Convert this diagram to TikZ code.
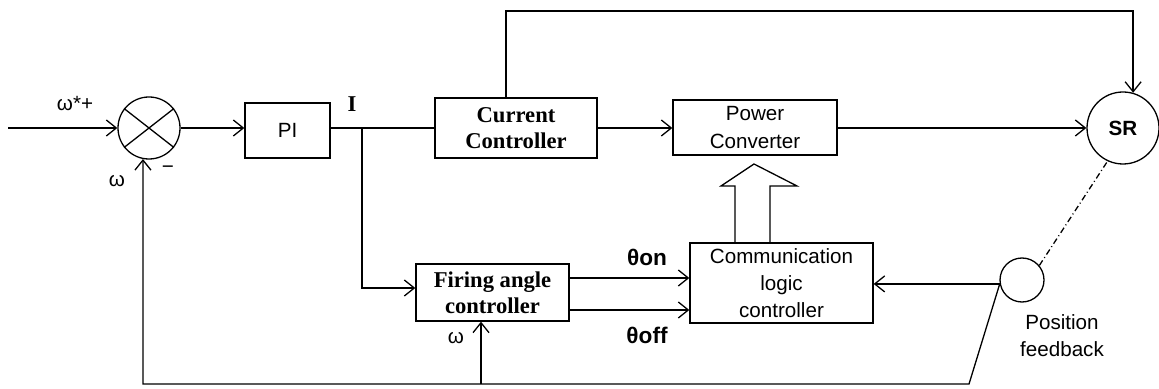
\documentclass[tikz,border=0pt]{standalone}
\usepackage{fontspec}
\setmainfont{Liberation Sans}
\newfontfamily\tnr{Liberation Serif}
\usetikzlibrary{arrows.meta}

\tikzset{
  blk/.style={draw, line width=0.65pt, align=center, inner sep=0pt},
  sfblk/.style={blk, font=\fontsize{10.3}{13.6}\selectfont},
  tnrblk/.style={blk, font=\tnr\bfseries\fontsize{11.3}{13.2}\selectfont},
  ring/.style={draw, circle, line width=0.65pt, inner sep=0pt},
  lbl/.style={font=\fontsize{10.3}{13.6}\selectfont, inner sep=0pt, align=center},
  thlbl/.style={font=\bfseries\fontsize{11.3}{13}\selectfont, inner sep=0pt}
}

\begin{document}
\begin{tikzpicture}[x=0.5pt, y=-0.5pt, line width=0.65pt,
                    >={Straight Barb[length=5pt,width=8pt]}]
  \useasboundingbox (0,0) rectangle (1159,389);

  % --- 1. blocks ---
  \node[ring, minimum size=31pt] (sum) at (149,128) {};
  \node[sfblk, minimum width=42.5pt, minimum height=27.5pt] (pi) at (287.5,130.5) {PI};
  \node[tnrblk, minimum width=81pt, minimum height=30pt] (cc) at (516,128) {Current\\Controller};
  \node[sfblk, minimum width=82pt, minimum height=27.5pt] (pc) at (755,127.5) {Power\\Converter};
  \node[ring, minimum size=36pt, font=\bfseries\fontsize{10.3}{12}\selectfont] (sr) at (1123,128) {SR};
  \node[tnrblk, minimum width=76.5pt, minimum height=28.5pt] (fa) at (492.5,292.5) {Firing angle\\controller};
  \node[sfblk, minimum width=91.5pt, minimum height=40pt] (clc) at (781.5,283) {Communication\\logic\\controller};
  \node[ring, minimum size=22pt] (pos) at (1022,280) {};

  % --- 2. helper points ---
  \coordinate (in) at (8,128);
  \coordinate (br) at (362,128);
  \coordinate (top) at (506,11);
  \coordinate (fb) at (969,384);
  \coordinate (wf) at (481,384);

  % --- 3. labels ---
  \node[lbl] at (75,104) {ω*+};
  \node[lbl] at (117,181) {ω};
  \node[lbl] at (168,170) {−};
  \node[font=\tnr\bfseries\fontsize{11.3}{13}\selectfont, inner sep=0pt] at (352,104) {I};
  \node[thlbl] at (647,257) {θon};
  \node[thlbl] at (647,335) {θoff};
  \node[lbl] at (456,338) {ω};
  \node[lbl] at (1062,336) {Position\\feedback};

  % --- 4. summing junction ---
  \draw (sum.142) -- (sum.322);
  \draw (sum.38) -- (sum.218);

  % --- 5. forward path ---
  \draw[->] (in) -- (sum.west);
  \draw[->] (sum.east) -- (sum.east -| pi.west);
  \draw (sum.east -| pi.east) -- (sum.east -| cc.west);
  \draw[->] (br) |- ([yshift=2.25pt]fa.west);
  \draw[->] (cc.north -| top) -- (top) -| (sr.74);
  \draw[->] (cc.east) -- (cc.east -| pc.west);
  \draw[->] (sr.west -| pc.east) -- (sr.west);

  % --- 6. hollow arrow into the converter ---
  \draw (735,243) -- (735,186) -- (721,186) -- (754,164) -- (797,186) -- (770,186) -- (770,243);

  % --- 7. firing angles ---
  \draw[->] ([yshift=7.25pt]fa.east) -- ([yshift=7.25pt]fa.east -| clc.west);
  \draw[->] ([yshift=-8.75pt]fa.east) -- ([yshift=-8.75pt]fa.east -| clc.west);

  % --- 8. feedback ---
  \draw[->] (pos.190) -- (pos.190 -| clc.east);
  \draw[->] (pos.190) -- (fb) -| (sum.259);
  \draw[->] (wf) -- (wf |- fa.south);
  \draw[dash pattern=on 3pt off 1.5pt on 0.5pt off 1.5pt] (pos.40) -- (sr.245);

\end{tikzpicture}
\end{document}
